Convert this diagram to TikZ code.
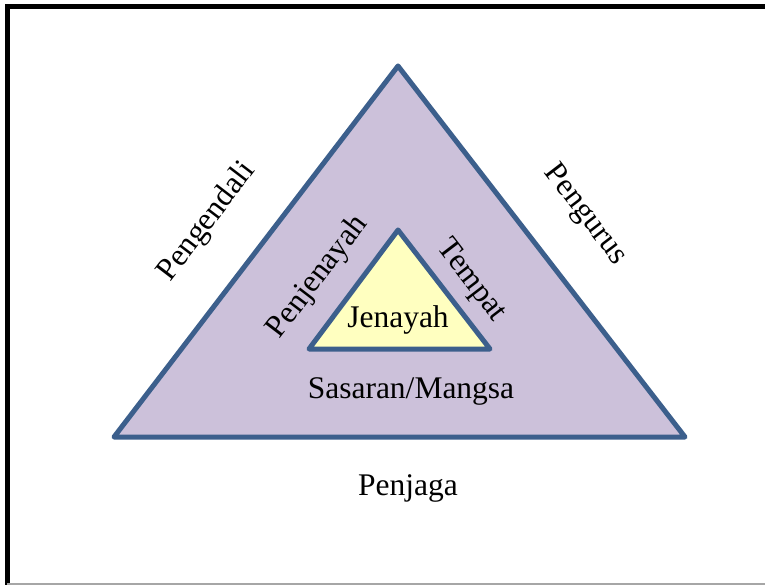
\documentclass[tikz,border=0pt]{standalone}
\usepackage{fontspec}
\setmainfont{Liberation Serif}
\definecolor{edgeblue}{HTML}{3C5F8C}
\definecolor{lav}{HTML}{CCC1DA}
\definecolor{paleyellow}{HTML}{FFFFC0}
\begin{document}
\begin{tikzpicture}[x=1pt,y=-1pt,
  tri/.style={draw=edgeblue,line width=5pt,line join=round},
  lbl/.style={font=\fontsize{31.5}{33}\selectfont,inner sep=0pt}]
\useasboundingbox (0,0) rectangle (765,585);
\fill[white] (0,0) rectangle (765,585);
% frame
\draw[line width=5pt] (7,585) -- (7,7) -- (765,7);
\draw[gray!70,line width=2pt] (7,584) -- (765,584);
% outer triangle
\coordinate (oa) at (398,66);
\coordinate (ob) at (114,437);
\coordinate (oc) at (685,437);
\filldraw[tri,fill=lav] (oa) -- (ob) -- (oc) -- cycle;
% inner triangle
\coordinate (ia) at (398,230);
\coordinate (ib) at (309,349);
\coordinate (ic) at (490,349);
\filldraw[tri,fill=paleyellow] (ia) -- (ib) -- (ic) -- cycle;
% labels
\node[lbl,rotate=52.6] (pengendali) at (207,222) {Pengendali};
\node[lbl,rotate=-52.6] (pengurus) at (585,215) {Pengurus};
\node[lbl,rotate=52.6] (penjenayah) at (318,277) {Penjenayah};
\node[lbl,rotate=-52.6] (tempat) at (471,281) {Tempat};
\node[lbl] (jenayah) at (398,320) {Jenayah};
\node[lbl] (sasaran) at (411,391) {Sasaran/Mangsa};
\node[lbl] (penjaga) at (408,488) {Penjaga};
\end{tikzpicture}
\end{document}
